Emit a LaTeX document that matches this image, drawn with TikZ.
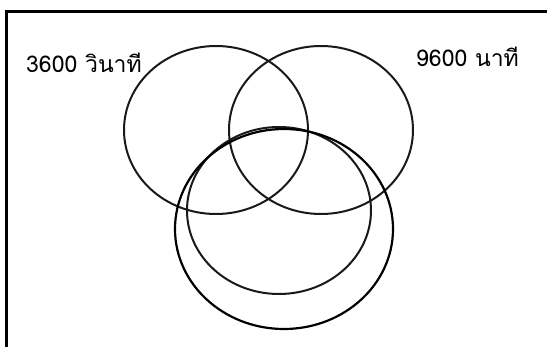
\documentclass[tikz,border=0pt]{standalone}
\usepackage{fontspec}
\newfontfamily\thaifont[Script=Thai]{Loma}

\tikzset{
    venn frame/.style={
      draw=black,
      line width=2.2pt
    },
    venn circle/.style={
      draw=black!90,
      line width=2pt
    },
    venn outer/.style={
      draw=black,
      line width=2.2pt
    },
    venn label/.style={
      font=\thaifont\fontsize{23}{27}\selectfont,
      anchor=base west,
      inner sep=0pt
    }
  }

\begin{document}
\begin{tikzpicture}[x=1pt,y=-1pt]
      \useasboundingbox (0,0) rectangle (547,347);

      % 枠
      \draw[venn frame] (6.5,347) -- (6.5,11.5) -- (547,11.5);

      % 輪郭
      \draw[venn circle] (216,130) ellipse [x radius=92, y radius=84];
      \draw[venn circle] (321,130) ellipse [x radius=92, y radius=84];
      \draw[venn circle] (279,210.5) ellipse [x radius=92, y radius=83.5];
      \draw[venn outer] (284,229) ellipse [x radius=109, y radius=100];

      % ラベル
      \node[venn label] (seconds) at (26,73) {3600 วินาที};
      \node[venn label] (minutes) at (416,67) {9600 นาที};
    \end{tikzpicture}
\end{document}
